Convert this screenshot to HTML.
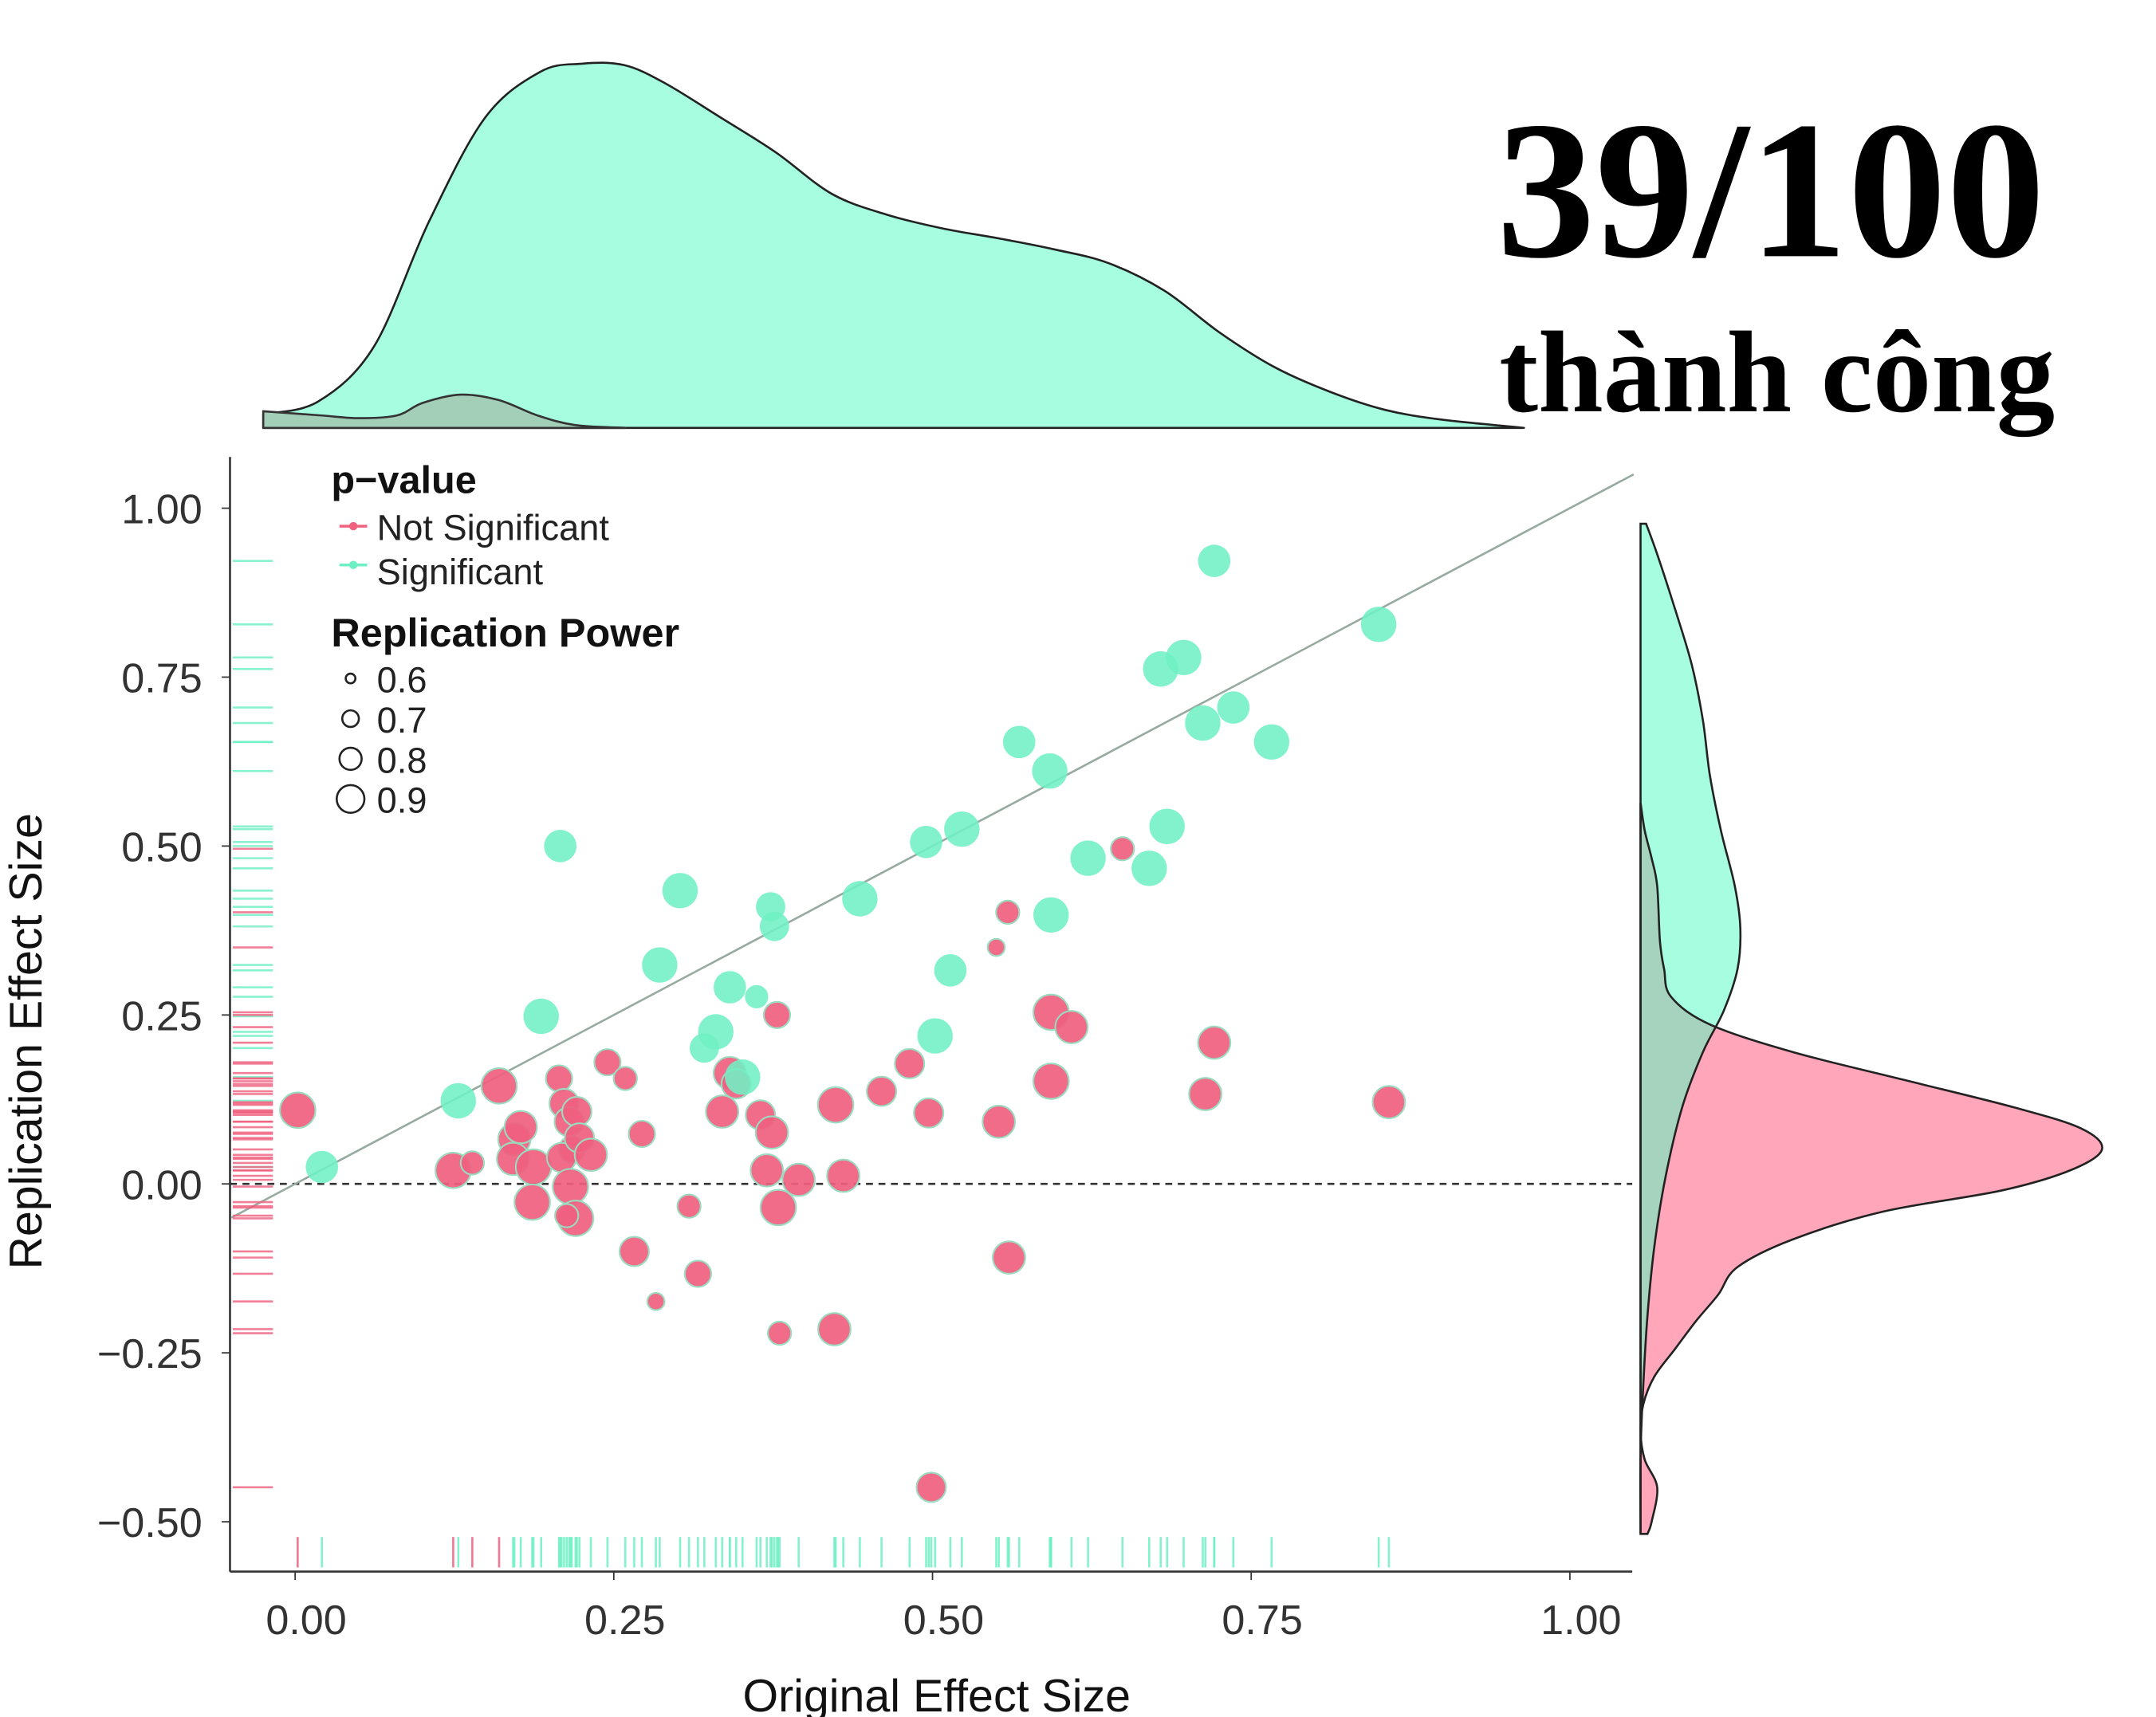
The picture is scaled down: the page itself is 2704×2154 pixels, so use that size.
<!DOCTYPE html>
<html><head><meta charset="utf-8"><style>
html,body{margin:0;padding:0;background:#fff}
svg{display:block}
text{font-family:"Liberation Sans","DejaVu Sans",sans-serif}
</style></head><body>
<svg id="chart" width="2704" height="2154" viewBox="0 0 1556 1240" preserveAspectRatio="none" xmlns="http://www.w3.org/2000/svg">
<g id="topdens"></g>
<g id="rightdens"></g>
<g id="axes"></g>
<g id="rugs"></g>
<g id="pts"></g>
<g>
<text x="239" y="356" font-size="28" font-weight="bold" fill="#111">p−value</text>
<line x1="245" y1="380" x2="265" y2="380" stroke="#f0607f" stroke-width="2"/><circle cx="255" cy="380" r="3" fill="#f0607f"/>
<text x="272" y="390" font-size="26" fill="#222">Not Significant</text>
<line x1="245" y1="408" x2="265" y2="408" stroke="#6ff0c4" stroke-width="2"/><circle cx="255" cy="408" r="3" fill="#6ff0c4"/>
<text x="272" y="422" font-size="26" fill="#222">Significant</text>
<text x="239" y="467" font-size="29" font-weight="bold" fill="#111">Replication Power</text>
<circle cx="253" cy="490" r="3.5" fill="none" stroke="#222" stroke-width="1.5"/><text x="272" y="500" font-size="26" fill="#222">0.6</text>
<circle cx="253" cy="519" r="6" fill="none" stroke="#222" stroke-width="1.5"/><text x="272" y="529" font-size="26" fill="#222">0.7</text>
<circle cx="253" cy="548" r="8" fill="none" stroke="#222" stroke-width="1.5"/><text x="272" y="558" font-size="26" fill="#222">0.8</text>
<circle cx="253" cy="577" r="10" fill="none" stroke="#222" stroke-width="1.5"/><text x="272" y="587" font-size="26" fill="#222">0.9</text>
</g>
<text x="676" y="1236" font-size="33" text-anchor="middle" fill="#111">Original Effect Size</text>
<text transform="translate(30,752) rotate(-90)" font-size="33" text-anchor="middle" fill="#111">Replication Effect Size</text>
<text x="1080" y="185" font-size="142" font-weight="bold" fill="#000" textLength="396" lengthAdjust="spacingAndGlyphs" style="font-family:'Liberation Serif',serif">39/100</text>
<text x="1082" y="297" font-size="84" font-weight="bold" fill="#000" textLength="401" lengthAdjust="spacingAndGlyphs" style="font-family:'Liberation Serif','DejaVu Serif',serif">thành công</text>
</svg>
<script>
// ---- data ----
const sigX = [.021,.128,.193,.208,.286,.302,.341,.362,.330,.321,.351,.373,.376,.443,.495,.523,.514,.502,.568,.592,.593,.622,.670,.684,.679,.697,.712,.736,.766,.721,.850];
const sigY = [.025,.123,.248,.500,.324,.434,.291,.277,.225,.201,.158,.410,.381,.422,.506,.525,.316,.219,.654,.611,.398,.482,.467,.529,.762,.779,.682,.705,.654,.922,.828];
const sigPower = [.85,.9,.9,.85,.9,.9,.85,.7,.9,.8,.9,.8,.8,.9,.85,.9,.85,.9,.85,.9,.9,.9,.9,.9,.9,.9,.9,.85,.9,.85,.9];
const nsX = [.002,.160,.124,.139,.172,.177,.171,.187,.186,.207,.211,.215,.217,.209,.221,.223,.232,.216,.220,.213,.245,.259,.272,.266,.283,.309,.316,.341,.335,.346,.365,.378,.374,.370,.379,.395,.424,.430,.423,.380,.460,.482,.497,.499,.550,.559,.552,.560,.593,.593,.609,.649,.714,.721,.858];
const nsY = [.109,.145,.020,.031,.066,.084,.037,.025,-.027,.156,.119,.092,.051,.039,.107,.068,.043,-.004,-.051,-.047,.180,.156,.074,-.100,-.174,-.033,-.133,.164,.107,.148,.102,.250,.076,.020,-.035,.006,.117,.012,-.215,-.221,.137,.178,.105,-.449,.350,.402,.092,-.109,.254,.152,.232,.496,.133,.209,.121];
const nsPower = [.9,.9,.9,.7,.85,.85,.85,.9,.9,.75,.8,.8,.75,.8,.8,.8,.85,.9,.9,.7,.75,.7,.75,.8,.6,.7,.75,.85,.85,.8,.8,.75,.85,.85,.9,.85,.9,.85,.85,.7,.8,.8,.8,.8,.6,.7,.85,.85,.9,.9,.85,.7,.85,.85,.85];
const xTicks = [0,0.25,0.5,0.75,1];
const xTickLabels = ["0.00","0.25","0.50","0.75","1.00"];
const yTicks = [-0.5,-0.25,0,0.25,0.5,0.75,1];
const yTickLabels = ["\u22120.50","\u22120.25","0.00","0.25","0.50","0.75","1.00"];
const topGridX = [-.025,.018,.062,.105,.149,.192,.225,.258,.290,.334,.377,.421,.464,.508,.551,.595,.638,.682,.725,.768,.812,.855,.899,.964];
const topSigDens = [10,19,59,149,224,257,263,262,249,224,199,169,154,144,137,129,119,99,69,44,26,13,6,0];
const topNsGridX = [-.025,.02,.05,.08,.10,.13,.16,.19,.22,.26];
const topNsDens = [12,9,7,9,18,24,20,9,2,0];
const rightGridY = [.977,.932,.850,.768,.686,.605,.523,.441,.379,.318,.256,.195,.113,.010,-.092,-.195,-.297,-.400,-.518];
const rightSigDens = [4,12,25,37,45,50,58,68,72,70,60,45,30,18,10,5,2,0,0];
const rightNsGridY = [.564,.523,.482,.441,.359,.318,.277,.236,.195,.154,.113,.082,.051,.020,-.010,-.041,-.082,-.123,-.164,-.203,-.244,-.285,-.326,-.367,-.408,-.449,-.500,-.518];
const rightNsDens = [0,3,8,12,14,17,22,50,110,190,270,318,333,310,260,175,110,70,56,40,25,10,2,0,3,12,8,5];
// ---- scales ----
const X = v => 213 + v*920;
const Y = v => 855 - v*488;
const R = p => 4 + (p-0.5)*22;
const NS = "http://www.w3.org/2000/svg";
function mk(tag, parent, attrs){const e=document.createElementNS(NS,tag);for(const k in attrs)e.setAttribute(k,attrs[k]);parent.appendChild(e);return e;}
const G=id=>document.getElementById(id);
function smooth(P){let d='';for(let i=0;i<P.length-1;i++){const p0=P[Math.max(0,i-1)],p1=P[i],p2=P[i+1],p3=P[Math.min(P.length-1,i+2)];
 const c1=[p1[0]+(p2[0]-p0[0])/6,p1[1]+(p2[1]-p0[1])/6],c2=[p2[0]-(p3[0]-p1[0])/6,p2[1]-(p3[1]-p1[1])/6];
 d+=` C${c1[0]},${c1[1]} ${c2[0]},${c2[1]} ${p2[0]},${p2[1]}`;}return d;}
// top density
const TB=309;
function topPath(xs,ds){const P=xs.map((x,i)=>[X(x),TB-ds[i]]);return `M${X(xs[0])},${TB} L${P[0][0]},${P[0][1]}`+smooth(P)+` L${X(xs[xs.length-1])},${TB} Z`;}
const svg=G('chart');
const defs=mk('defs',svg,{});
const td=G('topdens');
const tg=mk('path',td,{d:topPath(topGridX,topSigDens),fill:'#a6fde0',stroke:'#222','stroke-width':1.5,'stroke-linejoin':'round'});


const tn=mk('path',td,{d:topPath(topNsGridX,topNsDens),fill:'#a3cfb9',stroke:'#333','stroke-width':1.5});


// right density
const RB=1184;
function rightPath(ys,ds){const P=ys.map((y,i)=>[RB+ds[i],Y(y)]);return `M${RB},${Y(ys[0])} L${P[0][0]},${P[0][1]}`+smooth(P)+` L${RB},${Y(ys[ys.length-1])} Z`;}
const rd=G('rightdens');
const gp=rightPath(rightGridY,rightSigDens), pp=rightPath(rightNsGridY,rightNsDens);
const cp=mk('clipPath',defs,{id:'pinkclip'});mk('path',cp,{d:pp});
const rg=mk('path',rd,{d:gp,fill:'#a6fde0'});


const rp=mk('path',rd,{d:pp,fill:'#ffa6ba'});


mk('path',rd,{d:gp,fill:'#a6d3bd','clip-path':'url(#pinkclip)'});
mk('path',rd,{d:gp,fill:'none',stroke:'#222','stroke-width':1.5});
mk('path',rd,{d:pp,fill:'none',stroke:'#222','stroke-width':1.5});
// axes
const ax=G('axes');
mk('line',ax,{x1:166,y1:330,x2:166,y2:1135,stroke:'#333','stroke-width':1.5});
mk('line',ax,{x1:166,y1:1135,x2:1178,y2:1135,stroke:'#333','stroke-width':1.5});
xTicks.forEach((v,i)=>{
  mk('line',ax,{x1:X(v),y1:1135,x2:X(v),y2:1141,stroke:'#333'});
  const t=mk('text',ax,{x:X(v)+8,y:1180,'font-size':30,'text-anchor':'middle',fill:'#333'});t.textContent=xTickLabels[i];
  
  
});
yTicks.forEach((v,i)=>{
  mk('line',ax,{x1:160,y1:Y(v),x2:166,y2:Y(v),stroke:'#333'});
  const t=mk('text',ax,{x:146,y:Y(v)+11,'font-size':30,'text-anchor':'end',fill:'#333'});t.textContent=yTickLabels[i];
  
  
});
const zl=mk('line',ax,{x1:166,y1:Y(0),x2:1178,y2:Y(0),stroke:'#333','stroke-width':1.5,'stroke-dasharray':'5,4'});


const dl=mk('line',ax,{x1:X(-0.05),y1:Y(-0.05),x2:X(1.05),y2:Y(1.05),stroke:'#97aaa0','stroke-width':1.5});


// rugs
const rugs=G('rugs');
function rug(xs,ys,col,bcol){xs.forEach((x,i)=>{
  mk('line',rugs,{x1:X(x),y1:1110,x2:X(x),y2:1132,stroke:(x<0.165?col:bcol),'stroke-width':1.5,opacity:.85});
  mk('line',rugs,{x1:168,y1:Y(ys[i]),x2:197,y2:Y(ys[i]),stroke:col,'stroke-width':1.5,opacity:.8});
});}
rug(sigX,sigY,'#6ff0c4','#6ff0c4');rug(nsX,nsY,'#f0607f','#6ff0c4');
// points
const pts=G('pts');
nsX.forEach((x,i)=>{const c=mk('circle',pts,{cx:X(x),cy:Y(nsY[i]),r:R(nsPower[i]),fill:'#f0607f','fill-opacity':.92,stroke:'#9adcc0','stroke-width':1.2});

});
sigX.forEach((x,i)=>{const c=mk('circle',pts,{cx:X(x),cy:Y(sigY[i]),r:R(sigPower[i]),fill:'#6ff0c4','fill-opacity':.88});

});
</script>
</body></html>
